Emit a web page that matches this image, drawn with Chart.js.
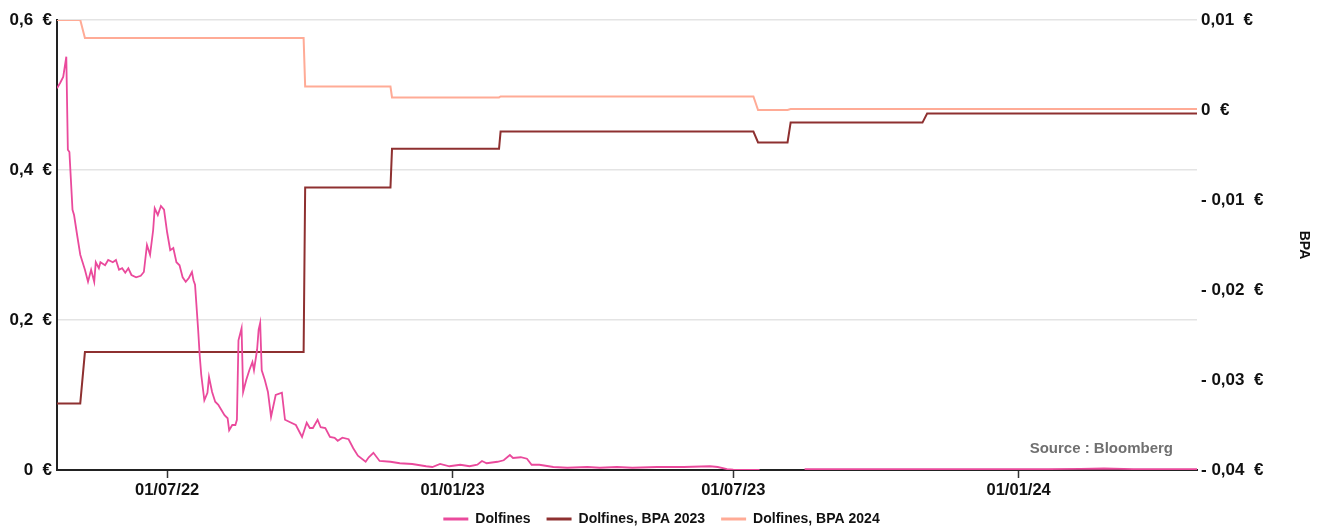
<!DOCTYPE html>
<html><head><meta charset="utf-8">
<script src="https://cdn.jsdelivr.net/npm/chart.js@4.4.0/dist/chart.umd.min.js"></script>
<style>html,body{margin:0;padding:0;background:#fff;overflow:hidden;}</style>
</head><body>
<canvas id="c" width="1323" height="530"></canvas>
<script>
const priceDates = ['2022-04-21','2022-04-23','2022-04-25','2022-04-27','2022-04-28','2022-04-29','2022-05-01','2022-05-02','2022-05-04','2022-05-06','2022-05-09','2022-05-11','2022-05-13','2022-05-15','2022-05-16','2022-05-18','2022-05-19','2022-05-22','2022-05-24','2022-05-27','2022-05-29','2022-05-31','2022-06-02','2022-06-04','2022-06-06','2022-06-08','2022-06-11','2022-06-14','2022-06-16','2022-06-18','2022-06-20','2022-06-22','2022-06-23','2022-06-25','2022-06-27','2022-06-29','2022-07-01','2022-07-03','2022-07-05','2022-07-07','2022-07-09','2022-07-11','2022-07-13','2022-07-15','2022-07-17','2022-07-18','2022-07-19','2022-07-21','2022-07-22','2022-07-23','2022-07-25','2022-07-27','2022-07-28','2022-07-30','2022-08-01','2022-08-03','2022-08-05','2022-08-07','2022-08-09','2022-08-10','2022-08-12','2022-08-14','2022-08-15','2022-08-16','2022-08-18','2022-08-19','2022-08-21','2022-08-23','2022-08-25','2022-08-26','2022-08-28','2022-08-29','2022-08-30','2022-08-31','2022-09-02','2022-09-04','2022-09-06','2022-09-09','2022-09-13','2022-09-15','2022-09-18','2022-09-22','2022-09-26','2022-09-29','2022-10-01','2022-10-03','2022-10-06','2022-10-08','2022-10-11','2022-10-14','2022-10-17','2022-10-19','2022-10-22','2022-10-26','2022-10-29','2022-11-01','2022-11-06','2022-11-08','2022-11-11','2022-11-15','2022-11-22','2022-11-28','2022-12-06','2022-12-15','2022-12-19','2022-12-24','2022-12-30','2023-01-06','2023-01-12','2023-01-17','2023-01-20','2023-01-23','2023-01-30','2023-02-03','2023-02-07','2023-02-09','2023-02-14','2023-02-18','2023-02-21','2023-02-26','2023-03-07','2023-03-16','2023-03-29','2023-04-06','2023-04-17','2023-04-27','2023-05-13','2023-05-30','2023-06-16','2023-06-21','2023-06-27','2023-07-01','2023-07-18','2023-07-26','2023-08-16','2023-09-15','2023-10-20','2023-11-20','2023-12-20','2024-01-20','2024-02-10','2024-02-25','2024-03-15','2024-04-25'];
const priceValues = [0.509,0.516,0.524,0.551,0.427,0.424,0.347,0.34,0.313,0.287,0.267,0.251,0.267,0.251,0.277,0.269,0.277,0.273,0.28,0.277,0.28,0.267,0.269,0.263,0.269,0.26,0.257,0.259,0.264,0.3,0.287,0.32,0.349,0.34,0.352,0.347,0.317,0.293,0.296,0.277,0.273,0.257,0.251,0.256,0.264,0.253,0.247,0.187,0.153,0.127,0.093,0.103,0.124,0.104,0.091,0.087,0.08,0.073,0.069,0.053,0.06,0.06,0.067,0.173,0.189,0.104,0.12,0.133,0.144,0.133,0.16,0.187,0.196,0.133,0.12,0.104,0.071,0.1,0.103,0.067,0.064,0.06,0.044,0.063,0.056,0.056,0.067,0.057,0.056,0.044,0.043,0.039,0.043,0.041,0.029,0.019,0.011,0.017,0.023,0.012,0.011,0.009,0.008,0.005,0.004,0.008,0.005,0.007,0.005,0.007,0.012,0.009,0.011,0.013,0.02,0.016,0.017,0.015,0.007,0.007,0.004,0.003,0.004,0.003,0.004,0.003,0.004,0.004,0.005,0.004,0.0013,0.0005,0.0003,null,0.001,0.001,0.0012,0.001,0.0012,0.0012,0.0015,0.002,0.0012,0.0012];

const bpa2023Dates = ['2022-04-21','2022-05-06','2022-05-09','2022-09-27','2022-09-28','2022-11-22','2022-11-23','2023-01-31','2023-02-01','2023-07-14','2023-07-17','2023-08-05','2023-08-07','2023-10-31','2023-11-03','2024-04-25'];
const bpa2023Values = [-0.0326,-0.0326,-0.0269,-0.0269,-0.0086,-0.0086,-0.0043,-0.0043,-0.0024,-0.0024,-0.0036,-0.0036,-0.0014,-0.0014,-0.0004,-0.0004];

const bpa2024Dates = ['2022-04-21','2022-05-06','2022-05-09','2022-09-27','2022-09-28','2022-11-22','2022-11-23','2023-01-31','2023-02-01','2023-07-14','2023-07-17','2023-08-05','2023-08-07','2024-04-25'];
const bpa2024Values = [0.01,0.01,0.008,0.008,0.0026,0.0026,0.0014,0.0014,0.0015,0.0015,0.0,0.0,0.0001,0.0001];

const seriesNames = ['Dolfines','Dolfines, BPA 2023','Dolfines, BPA 2024'];
const xRange = ['2022-04-21','2024-04-25'];
const xTickDates = ['2022-07-01','2023-01-01','2023-07-01','2024-01-01'];
const xTickLabels = ['01/07/22','01/01/23','01/07/23','01/01/24'];
const leftTickValues = [0,0.2,0.4,0.6];
const leftTickLabels = ['0\u00a0\u00a0€','0,2\u00a0\u00a0€','0,4\u00a0\u00a0€','0,6\u00a0\u00a0€'];
const rightTickValues = [-0.04,-0.03,-0.02,-0.01,0,0.01];
const rightTickLabels = ['- 0,04\u00a0\u00a0€','- 0,03\u00a0\u00a0€','- 0,02\u00a0\u00a0€','- 0,01\u00a0\u00a0€','0\u00a0\u00a0€','0,01\u00a0\u00a0€'];
const sourceText = 'Source : Bloomberg';

const toDay = s => Date.UTC(+s.slice(0,4), +s.slice(5,7)-1, +s.slice(8,10)) / 86400000;
const pts = (d, v) => d.map((s, i) => ({x: toDay(s), y: v[i]}));

const FONT = '"Liberation Sans", Arial, sans-serif';

const sourcePlugin = {
  id: 'sourceText',
  afterDraw(chart) {
    const {ctx, chartArea} = chart;
    ctx.save();
    ctx.font = 'bold 15px ' + FONT;
    ctx.fillStyle = '#707070';
    ctx.textAlign = 'right';
    ctx.textBaseline = 'middle';
    ctx.fillText(sourceText, chartArea.right - 24, chartArea.bottom - 21);
    ctx.restore();
  }
};

new Chart(document.getElementById('c'), {
  type: 'line',
  data: {
    datasets: [
      {label: seriesNames[0], data: pts(priceDates, priceValues), yAxisID: 'y', borderColor: '#ea4a9c', backgroundColor: '#ea4a9c', borderWidth: 1.8, spanGaps: false},
      {label: seriesNames[1], data: pts(bpa2023Dates, bpa2023Values), yAxisID: 'y2', borderColor: '#8e3030', backgroundColor: '#8e3030', borderWidth: 2},
      {label: seriesNames[2], data: pts(bpa2024Dates, bpa2024Values), yAxisID: 'y2', borderColor: '#ffab96', backgroundColor: '#ffab96', borderWidth: 2}
    ]
  },
  options: {
    responsive: false,
    animation: false,
    devicePixelRatio: 1,
    elements: {point: {radius: 0, hoverRadius: 0}, line: {tension: 0}},
    layout: {padding: {top: 20, left: 0, right: 0, bottom: -6}},
    plugins: {
      tooltip: {enabled: false},
      legend: {
        position: 'bottom',
        labels: {
          boxWidth: 25, boxHeight: 3, padding: 16, color: '#111',
          font: {family: FONT, size: 14, weight: 'bold'},
          generateLabels(chart) {
            return Chart.defaults.plugins.legend.labels.generateLabels(chart).map(l => Object.assign(l, {lineWidth: 0, fillStyle: l.strokeStyle}));
          }
        }
      }
    },
    scales: {
      x: {
        type: 'linear',
        min: toDay(xRange[0]), max: toDay(xRange[1]),
        afterBuildTicks(axis) { axis.ticks = xTickDates.map(d => ({value: toDay(d)})); },
        afterFit(s) { s.height = 26; },
        ticks: {
          autoSkip: false, maxRotation: 0, padding: 3, color: '#111',
          font: {family: FONT, size: 16.5, weight: 'bold'},
          callback: (v, i) => xTickLabels[i]
        },
        grid: {drawOnChartArea: false, drawTicks: true, tickLength: 8, tickColor: '#333', tickWidth: 1.5},
        border: {display: true, color: '#222', width: 2}
      },
      y: {
        position: 'left', min: 0, max: 0.6,
        afterBuildTicks(axis) { axis.ticks = leftTickValues.map(v => ({value: v})); },
        afterFit(s) { s.width = 57; },
        ticks: {
          padding: 5, color: '#111',
          font: {family: FONT, size: 17, weight: 'bold'},
          callback: (v, i) => leftTickLabels[i]
        },
        grid: {color: '#e4e4e4', lineWidth: 1.5, drawTicks: false},
        border: {display: true, color: '#222', width: 2}
      },
      y2: {
        position: 'right', min: -0.04, max: 0.01,
        afterBuildTicks(axis) { axis.ticks = rightTickValues.map(v => ({value: v})); },
        afterFit(s) { s.width = 126; },
        ticks: {
          padding: 4, color: '#111',
          font: {family: FONT, size: 17, weight: 'bold'},
          callback: (v, i) => rightTickLabels[i]
        },
        grid: {display: false, drawTicks: false},
        border: {display: false},
        title: {display: true, text: 'BPA', color: '#111', font: {family: FONT, size: 14, weight: 'bold'}, padding: {top: 11, bottom: 0}}
      }
    }
  },
  plugins: [sourcePlugin]
});
</script>
</body></html>
